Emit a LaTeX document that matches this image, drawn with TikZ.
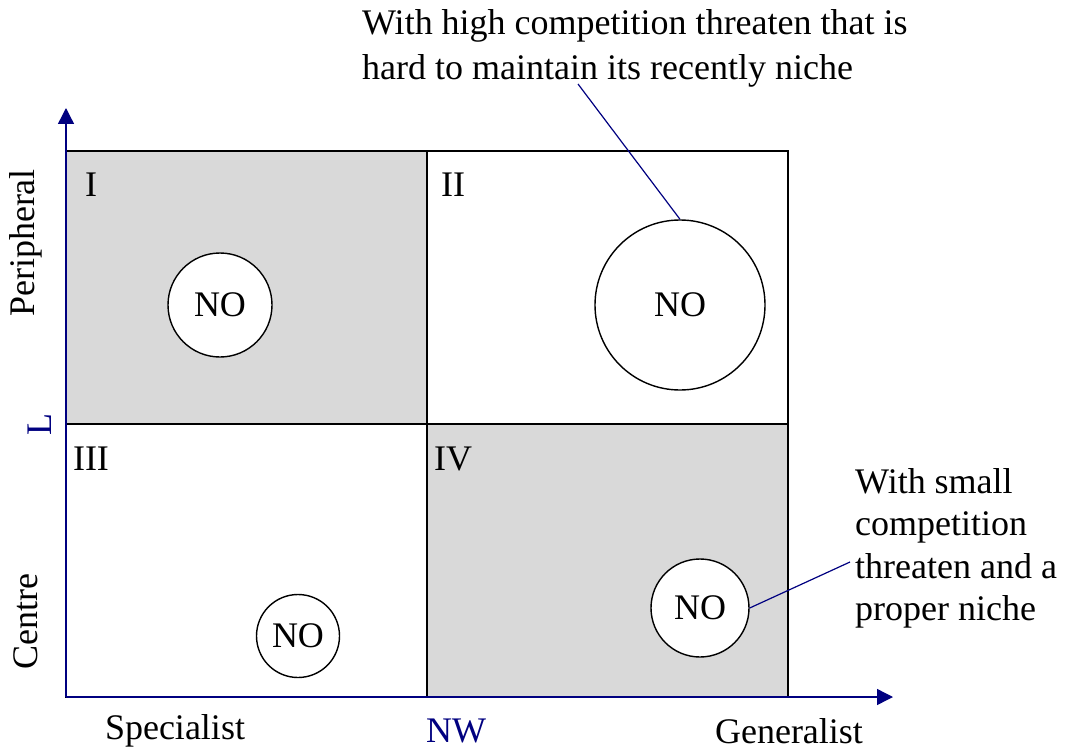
\documentclass[tikz,border=0pt]{standalone}
\usepackage{fontspec}
\setmainfont{Liberation Serif}
\usetikzlibrary{arrows.meta}
\definecolor{axisblue}{RGB}{0,0,128}
\definecolor{quadgray}{RGB}{217,217,217}
\tikzset{
  quad/.style={draw,line width=1.6pt,minimum width=361pt,minimum height=273pt,inner sep=0pt},
  nicheball/.style={circle,draw,fill=white,line width=1.4pt,inner sep=0pt},
  axisline/.style={axisblue,line width=1.4pt,-{Triangle[length=16pt,width=16pt]}},
  callout/.style={axisblue,line width=1.2pt}
}
\begin{document}
\begin{tikzpicture}[x=1pt,y=-1pt,every node/.style={font=\fontsize{36}{43}\selectfont}]
                \useasboundingbox (0,0) rectangle (1065,754);
                % quadrants
                \node[quad,fill=quadgray] (q1) at (246.5,287.5) {};
                \node[quad] (q2) at (607.5,287.5) {};
                \node[quad] (q3) at (246.5,560.5) {};
                \node[quad,fill=quadgray] (q4) at (607.5,560.5) {};
                \node (r1) at (91,185) {I};
                \node (r2) at (453,185) {II};
                \node (r3) at (91,459) {III};
                \node (r4) at (453,459) {IV};
                % axes
                \coordinate (o) at (66,697);
                \coordinate (ytop) at (66,108);
                \coordinate (xend) at (893,697);
                \draw[axisline] (o) -- (ytop);
                \draw[axisline] (o) -- (xend);
                \node[rotate=90] (per) at (26,243) {Peripheral};
                \node[rotate=90] (cen) at (26,622) {Centre};
                \node[rotate=90,text=axisblue] (L) at (40,425) {L};
                \node (spe) at (175,731) {Specialist};
                \node[text=axisblue] (NW) at (456,731) {NW};
                \node (gen) at (789,731) {Generalist};
                % niches
                \node[nicheball,minimum size=104pt] (n1) at (220,305) {NO};
                \node[nicheball,minimum size=170pt] (n2) at (680,305) {NO};
                \node[nicheball,minimum size=83pt] (n3) at (298,636) {NO};
                \node[nicheball,minimum size=98pt] (n4) at (700,608) {NO};
                % notes
                \node[anchor=north west,align=left,inner sep=0pt,font=\fontsize{36}{45}\selectfont] (hi) at (362,9) {With high competition threaten that is\\hard to maintain its recently niche};
                \node[anchor=north west,align=left,inner sep=0pt,font=\fontsize{36}{42.5}\selectfont] (lo) at (855,468) {With small\\competition\\threaten and a\\proper niche};
                \coordinate (hitip) at (578,84);
                \coordinate (lotip) at (850,562);
                \draw[callout] (hitip) -- (n2.north);
                \draw[callout] (n4.east) -- (lotip);
            \end{tikzpicture}
\end{document}
